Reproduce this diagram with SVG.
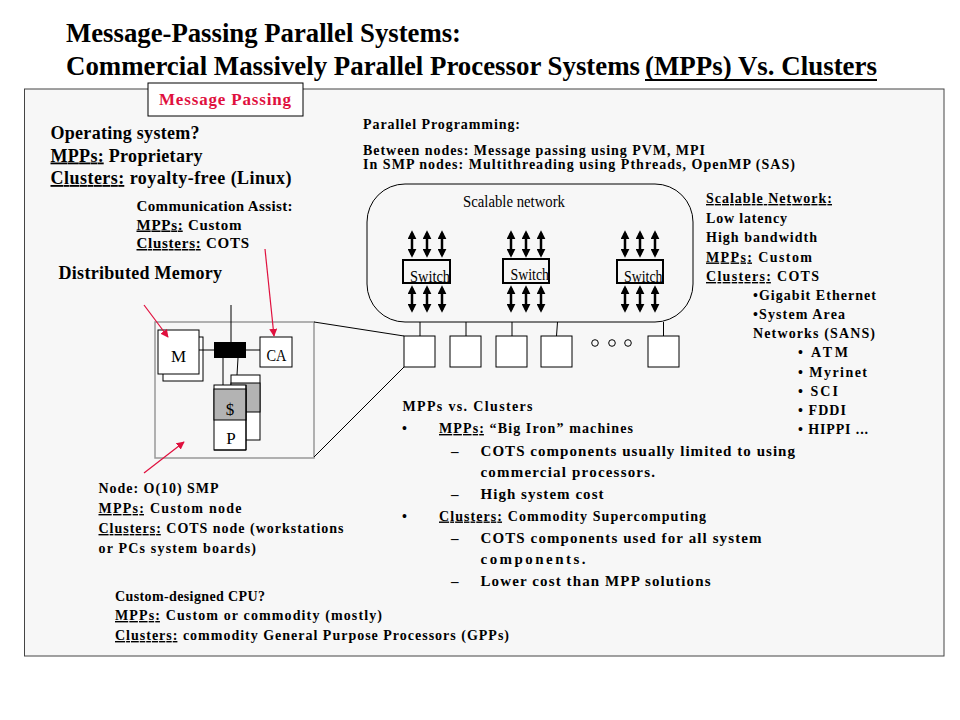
<svg xmlns="http://www.w3.org/2000/svg" width="960" height="720" viewBox="0 0 960 720">
<style>
.b{font-family:"Liberation Serif","Times New Roman",serif;font-weight:bold;fill:#000}
.r{font-family:"Liberation Serif","Times New Roman",serif;font-weight:normal;fill:#000}
.u{text-decoration:underline}
.f18{font-size:18px}.f15{font-size:15px}.f14{font-size:14px}.f16{font-size:16px}
.box{fill:#fff;stroke:#000;stroke-width:1}
.ln{stroke:#000;stroke-width:1;fill:none}
.dbl{stroke:#000;stroke-width:2.5;marker-start:url(#ah);marker-end:url(#ah)}
.red{stroke:#e0103e;stroke-width:1.2;marker-end:url(#rh)}
</style>
<defs>
<marker id="ah" viewBox="0 0 10 10" refX="7" refY="5" markerWidth="9" markerHeight="9" markerUnits="userSpaceOnUse" orient="auto-start-reverse"><path d="M0,0 L10,5 L0,10 z" fill="#000"/></marker>
<marker id="rh" viewBox="0 0 10 10" refX="9" refY="5" markerWidth="8" markerHeight="8" markerUnits="userSpaceOnUse" orient="auto"><path d="M0,0 L10,5 L0,10 z" fill="#e0103e"/></marker>
</defs>
<rect x="0" y="0" width="960" height="720" fill="#fff"/>
<g id="title">
<text class="b" x="66" y="42" font-size="28" textLength="395" lengthAdjust="spacingAndGlyphs">Message-Passing Parallel Systems:</text>
<text class="b" x="66" y="75" font-size="28" textLength="574" lengthAdjust="spacingAndGlyphs">Commercial Massively Parallel Processor Systems</text>
<text class="b" x="645" y="75" font-size="28" textLength="232" lengthAdjust="spacingAndGlyphs">(MPPs) Vs. Clusters</text>
<line x1="645" y1="80" x2="877" y2="80" stroke="#000" stroke-width="2"/>
</g>
<rect id="panel" x="24.5" y="89" width="919.5" height="567" fill="#f7f7f7" stroke="#444" stroke-width="1"/>
<g id="message-passing">
<rect x="148" y="83" width="155" height="33" fill="#fff" stroke="#000"/>
<text class="b" x="159" y="105" font-size="17" style="fill:#e0103e" textLength="132">Message Passing</text>
</g>
<g id="os-text" xml:space="preserve">
<text class="b f18" x="50.5" y="139" textLength="149">Operating system?</text>
<text class="b f18" x="50.5" y="161.5" textLength="152"><tspan class="u">MPPs:</tspan> Proprietary</text>
<text class="b f18" x="50.5" y="184" textLength="241"><tspan class="u">Clusters:</tspan>  royalty-free (Linux)</text>
</g>
<g id="ca-text" xml:space="preserve">
<text class="b f15" x="136.5" y="210.5" textLength="156">Communication Assist:</text>
<text class="b f15" x="136.5" y="229.5" textLength="105"><tspan class="u">MPPs:</tspan>  Custom</text>
<text class="b f15" x="136.5" y="248" textLength="112.5"><tspan class="u">Clusters:</tspan>  COTS</text>
</g>
<g id="dm-text"><text class="b f18" x="58.5" y="279" textLength="163.5">Distributed Memory</text></g>
<g id="pp-text" xml:space="preserve">
<text class="b f14" x="363" y="129" textLength="157">Parallel Programming:</text>
<text class="b f14" x="363" y="155" textLength="342">Between nodes: Message passing using PVM, MPI</text>
<text class="b f14" x="363" y="169" textLength="432">In SMP nodes:  Multithreading using Pthreads, OpenMP (SAS)</text>
</g>
<g id="network">
<rect x="367" y="184" width="326" height="138" rx="38" ry="38" fill="none" stroke="#000" stroke-width="1"/>
<text class="r" x="463" y="207" font-size="16" textLength="102" lengthAdjust="spacingAndGlyphs">Scalable network</text>
</g>
<g id="switch1">
<rect x="403" y="260" width="47" height="23" fill="none" stroke="#000" stroke-width="2"/>
<text class="r" x="410" y="281.5" font-size="16" textLength="40" lengthAdjust="spacingAndGlyphs">Switch</text>
</g>
<g id="switch2">
<rect x="503" y="259" width="46" height="24" fill="none" stroke="#000" stroke-width="2"/>
<text class="r" x="510.5" y="280" font-size="16" textLength="38.5" lengthAdjust="spacingAndGlyphs">Switch</text>
</g>
<g id="switch3">
<rect x="617" y="260" width="46" height="23" fill="none" stroke="#000" stroke-width="2"/>
<text class="r" x="624" y="281.5" font-size="16" textLength="38.5" lengthAdjust="spacingAndGlyphs">Switch</text>
</g>
<g id="node1"><rect class="box" x="404" y="336" width="31" height="31"/></g>
<g id="node2"><rect class="box" x="450" y="336" width="31" height="31"/></g>
<g id="node3"><rect class="box" x="496" y="336" width="31" height="31"/></g>
<g id="node4"><rect class="box" x="541" y="336" width="31" height="31"/></g>
<g id="ellipsis" fill="none" stroke="#000" stroke-width="1">
<circle cx="595" cy="343" r="3.3"/><circle cx="612" cy="343" r="3.3"/><circle cx="628" cy="343" r="3.3"/>
</g>
<g id="node5"><rect class="box" x="648" y="336" width="31" height="31"/></g>
<g id="node-detail">
<rect x="155" y="322" width="159" height="136" fill="none" stroke="#999" stroke-width="1.5"/>
<rect class="box" x="163" y="337" width="40" height="44"/>
<rect class="box" x="158" y="330" width="41" height="44"/>
<text class="r" x="178.5" y="362" font-size="17" text-anchor="middle">M</text>
<rect x="214" y="342" width="32" height="16" fill="#000"/>
<rect class="box" x="260" y="337" width="32" height="30"/>
<text class="r" x="266.5" y="361" font-size="17" textLength="20" lengthAdjust="spacingAndGlyphs">CA</text>
<rect class="box" x="231" y="375" width="29" height="65"/>
<rect x="231" y="383" width="29" height="29" fill="#b3b3b3" stroke="#000" stroke-width="1"/>
<rect class="box" x="214" y="385" width="32" height="65" stroke="#999"/>
<rect x="214" y="389" width="32" height="31" fill="#b3b3b3" stroke="#000" stroke-width="1"/>
<line x1="246" y1="385" x2="246" y2="450" stroke="#000"/>
<line x1="214" y1="450" x2="246" y2="450" stroke="#000"/>
<text class="r" x="230" y="415" font-size="17" text-anchor="middle">$</text>
<text class="r" x="231" y="444" font-size="17" text-anchor="middle">P</text>
</g>
<g id="net-text" xml:space="preserve">
<text class="b f14" x="706" y="203" textLength="126"><tspan class="u">Scalable Network:</tspan></text>
<text class="b f14" x="706" y="222.5" textLength="81">Low latency</text>
<text class="b f14" x="706" y="242" textLength="111">High bandwidth</text>
<text class="b f14" x="706" y="261.5" textLength="106"><tspan class="u">MPPs:</tspan>  Custom</text>
<text class="b f14" x="706" y="281" textLength="113"><tspan class="u">Clusters:</tspan>  COTS</text>
<text class="b f14" x="753" y="300" textLength="123">•Gigabit Ethernet</text>
<text class="b f14" x="753" y="319" textLength="92">•System Area</text>
<text class="b f14" x="753" y="338" textLength="122">Networks (SANS)</text>
<text class="b f14" x="798" y="357" textLength="50">• ATM</text>
<text class="b f14" x="798" y="376.5" textLength="69">• Myrinet</text>
<text class="b f14" x="798" y="395.5" textLength="40">• SCI</text>
<text class="b f14" x="798" y="414.5" textLength="48">• FDDI</text>
<text class="b f14" x="798" y="433.5" textLength="70">• HIPPI ...</text>
</g>
<g id="mpp-vs-clusters" xml:space="preserve">
<text class="b f14" x="402.5" y="410.5" textLength="130">MPPs  vs.  Clusters</text>
<text class="b f14" x="402" y="433">•</text>
<text class="b f14" x="439" y="433" textLength="194"><tspan class="u">MPPs:</tspan>  “Big Iron” machines</text>
<text class="b f15" x="451" y="455.5">–</text>
<text class="b f15" x="480.5" y="455.5" textLength="314.5">COTS components usually limited to using</text>
<text class="b f15" x="480.5" y="477" textLength="174.5">commercial processors.</text>
<text class="b f15" x="451" y="499">–</text>
<text class="b f15" x="480.5" y="499" textLength="123">High system cost</text>
<text class="b f14" x="402" y="520.5">•</text>
<text class="b f14" x="439" y="520.5" textLength="267"><tspan class="u">Clusters:</tspan>  Commodity Supercomputing</text>
<text class="b f15" x="451" y="542.5">–</text>
<text class="b f15" x="480.5" y="542.5" textLength="281">COTS components used for all system</text>
<text class="b f15" x="480.5" y="564" textLength="105">components.</text>
<text class="b f15" x="451" y="586">–</text>
<text class="b f15" x="480.5" y="586" textLength="230">Lower cost than MPP solutions</text>
</g>
<g id="node-text" xml:space="preserve">
<text class="b f14" x="98.5" y="493" textLength="120">Node: O(10) SMP</text>
<text class="b f14" x="98.5" y="513" textLength="143"><tspan class="u">MPPs:</tspan>  Custom node</text>
<text class="b f14" x="98.5" y="533" textLength="245"><tspan class="u">Clusters:</tspan>  COTS node (workstations</text>
<text class="b f14" x="98.5" y="552.5" textLength="157.5">or PCs  system  boards)</text>
</g>
<g id="cpu-text" xml:space="preserve">
<text class="b f14" x="115" y="600.5" textLength="150">Custom-designed CPU?</text>
<text class="b f14" x="115" y="620" textLength="267"><tspan class="u">MPPs:</tspan>   Custom or commodity  (mostly)</text>
<text class="b f14" x="115" y="640" textLength="394"><tspan class="u">Clusters:</tspan>  commodity  General Purpose Processors (GPPs)</text>
</g>
<g id="connectors">
<line class="dbl" x1="412" y1="233" x2="412" y2="255"/>
<line class="dbl" x1="427" y1="233" x2="427" y2="255"/>
<line class="dbl" x1="442" y1="233" x2="442" y2="255"/>
<line class="dbl" x1="412" y1="288" x2="412" y2="310"/>
<line class="dbl" x1="427" y1="288" x2="427" y2="310"/>
<line class="dbl" x1="442" y1="288" x2="442" y2="310"/>
<line class="dbl" x1="511" y1="233" x2="511" y2="255"/>
<line class="dbl" x1="526" y1="233" x2="526" y2="255"/>
<line class="dbl" x1="541" y1="233" x2="541" y2="255"/>
<line class="dbl" x1="511" y1="288" x2="511" y2="310"/>
<line class="dbl" x1="526" y1="288" x2="526" y2="310"/>
<line class="dbl" x1="541" y1="288" x2="541" y2="310"/>
<line class="dbl" x1="625" y1="233" x2="625" y2="255"/>
<line class="dbl" x1="640" y1="233" x2="640" y2="255"/>
<line class="dbl" x1="655" y1="233" x2="655" y2="255"/>
<line class="dbl" x1="625" y1="288" x2="625" y2="310"/>
<line class="dbl" x1="640" y1="288" x2="640" y2="310"/>
<line class="dbl" x1="655" y1="288" x2="655" y2="310"/>
<line class="ln" x1="420" y1="322" x2="420" y2="336"/>
<line class="ln" x1="466" y1="322" x2="466" y2="336"/>
<line class="ln" x1="512" y1="322" x2="512" y2="336"/>
<line class="ln" x1="557.5" y1="322" x2="556.5" y2="336"/>
<line class="ln" x1="663.5" y1="322" x2="663.5" y2="336"/>
<line class="ln" x1="314" y1="322" x2="404" y2="336"/>
<line class="ln" x1="314" y1="457" x2="404" y2="367"/>
<line class="ln" x1="199" y1="350" x2="214" y2="350"/>
<line class="ln" x1="246" y1="350" x2="260" y2="350"/>
<line class="ln" x1="231" y1="305" x2="231" y2="342"/>
<line class="ln" x1="223" y1="358" x2="223" y2="385"/>
<line class="ln" x1="238" y1="358" x2="237" y2="375"/>
<line class="red" x1="144" y1="305" x2="168" y2="337"/>
<line class="red" x1="265" y1="249" x2="274" y2="336"/>
<line class="red" x1="144" y1="473" x2="184" y2="442"/>
</g>
</svg>
